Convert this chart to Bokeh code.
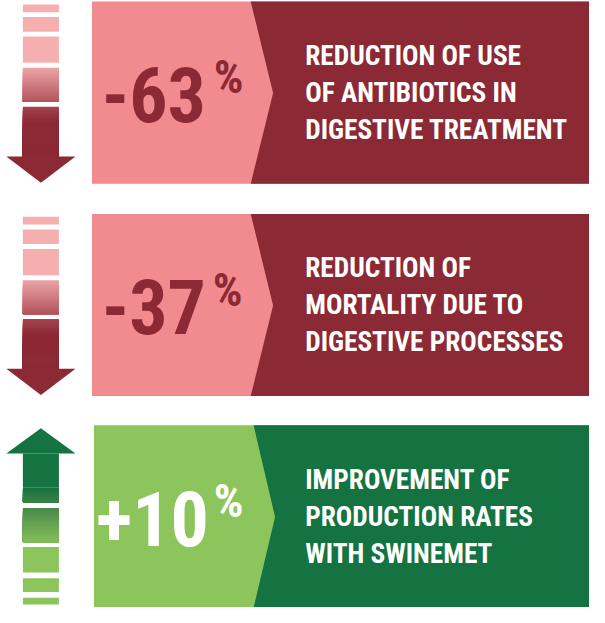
import numpy as np
from bokeh.plotting import figure
from bokeh.core.properties import value
from bokeh.embed import file_html
from bokeh.resources import INLINE

# ---- data ----
categories = ["antibiotics", "mortality", "production"]
changes = [-63, -37, 10]
value_labels = ["-63", "-37", "+10"]
percent_sign = ["%", "%", "%"]
directions = ["down", "down", "up"]
desc_line1 = ["REDUCTION OF USE", "REDUCTION OF", "IMPROVEMENT OF"]
desc_line2 = ["OF ANTIBIOTICS IN", "MORTALITY DUE TO", "PRODUCTION RATES"]
desc_line3 = ["DIGESTIVE TREATMENT", "DIGESTIVE PROCESSES", "WITH SWINEMET"]

# ---- style ----
DARK_RED = "#8B2935"
PINK = "#F28B8F"
LIGHT_PINK = "#F5AFAF"
DARK_GREEN = "#147340"
LIGHT_GREEN = "#8CC55C"
FONT = "Roboto Condensed"

# ---- layout (reference pixels) ----
W, H = 605, 623
FW, FH = 589, 607
S = FW / W  # font scale
panel_tops = [1, 219, 436]
panel_h = 187
panel_left = [94, 94, 96]
chevron_x = [257, 257, 260]
chevron_tip = [280, 280, 282]
num_right = [211, 211, 214]
pct_left = [219, 218, 219]
BASE_SHIFT = 0.40  # empirical shift between requested and drawn baseline (em)

p = figure(width=FW, height=FH, x_range=(0, W), y_range=(H, 0),
           output_backend="svg", toolbar_location=None, min_border=0)
p.axis.visible = False
p.grid.visible = False
p.outline_line_color = None
p.background_fill_color = "white"
p.border_fill_color = "white"


def fs(px):
    return "%.1fpx" % (px * S)


def hexmix(c1, c2, t):
    a = np.array([int(c1[i:i + 2], 16) for i in (1, 3, 5)], float)
    b = np.array([int(c2[i:i + 2], 16) for i in (1, 3, 5)], float)
    c = a + (b - a) * t
    return "#%02x%02x%02x" % tuple(int(round(v)) for v in c)


def gradient(x0, x1, y0, y1, c0, c1, hold=0.0):
    """vertical colour ramp from c0 at y0 to c1 at y1; last 'hold' fraction solid c1.
    Strips are stacked (each runs to y1) so no seams appear between them."""
    n = int(abs(y1 - y0))
    tops, bots, cols = [], [], []
    for i in range(n):
        t = i / max(n - 1, 1)
        if hold > 0:
            t = min(t / (1 - hold), 1.0)
        tops.append(y0 + i)
        bots.append(y1)
        cols.append(hexmix(c0, c1, t))
    p.quad(left=x0, right=x1, top=tops, bottom=bots, fill_color=cols, line_color=None)


def label(x, y, txt, size, color, align="left"):
    p.text(x=[x], y=[y - BASE_SHIFT * size], text=[txt], text_font=value(FONT),
           text_font_style="bold", text_font_size=fs(size), text_align=align,
           text_baseline="alphabetic", text_color=color)


arrow_l, arrow_r = 23, 60
head_l, head_r = 6, 77
ax = (arrow_l + arrow_r) / 2

for i, cat in enumerate(categories):
    top = panel_tops[i]
    bot = min(top + panel_h, H)
    mid = top + 94
    up = directions[i] == "up"
    light = LIGHT_GREEN if up else PINK
    dark = DARK_GREEN if up else DARK_RED

    # panel: light box + dark area with chevron notch
    p.quad(left=panel_left[i], right=W, top=top, bottom=bot, fill_color=light, line_color=None)
    p.patch([chevron_x[i], W, W, chevron_x[i], chevron_tip[i]], [top, top, bot, bot, mid],
            fill_color=dark, line_color=None)

    # big value
    num_color = "white" if up else DARK_RED
    label(num_right[i], top + 127, value_labels[i], 78, num_color, align="right")
    label(pct_left[i], top + 97, percent_sign[i], 48, num_color)

    # description
    for k, line in enumerate([desc_line1[i], desc_line2[i], desc_line3[i]]):
        label(313, top + 67 + 38 * k, line, 28, "white")

    # arrow
    if not up:
        for a, b in [(3, 11), (16, 31), (36, 63)]:
            p.quad(left=arrow_l, right=arrow_r, top=top + a, bottom=top + b,
                   fill_color=LIGHT_PINK, line_color=None)
        gradient(arrow_l, arrow_r, top + 68, top + 103, "#EBA3A5", "#B4555E")
        gradient(arrow_l, arrow_r, top + 108, top + 160, "#A4444E", DARK_RED, hold=0.7)
        p.patch([head_l, head_r, ax], [top + 159, top + 159, top + 186],
                fill_color=DARK_RED, line_color=None)
    else:
        p.patch([head_l, head_r, ax], [top + 29, top + 29, top + 3],
                fill_color=DARK_GREEN, line_color=None)
        p.quad(left=arrow_l, right=arrow_r, top=top + 29, bottom=top + 64,
               fill_color=DARK_GREEN, line_color=None)
        gradient(arrow_l, arrow_r, top + 64, top + 79, DARK_GREEN, "#3C8246")
        gradient(arrow_l, arrow_r, top + 85, top + 120, "#4A8A4A", "#84BE59")
        for a, b in [(125, 151), (157, 171), (177, 184)]:
            p.quad(left=arrow_l, right=arrow_r, top=top + a, bottom=top + b,
                   fill_color=LIGHT_GREEN, line_color=None)

open("out.html", "w").write(file_html(p, INLINE))
